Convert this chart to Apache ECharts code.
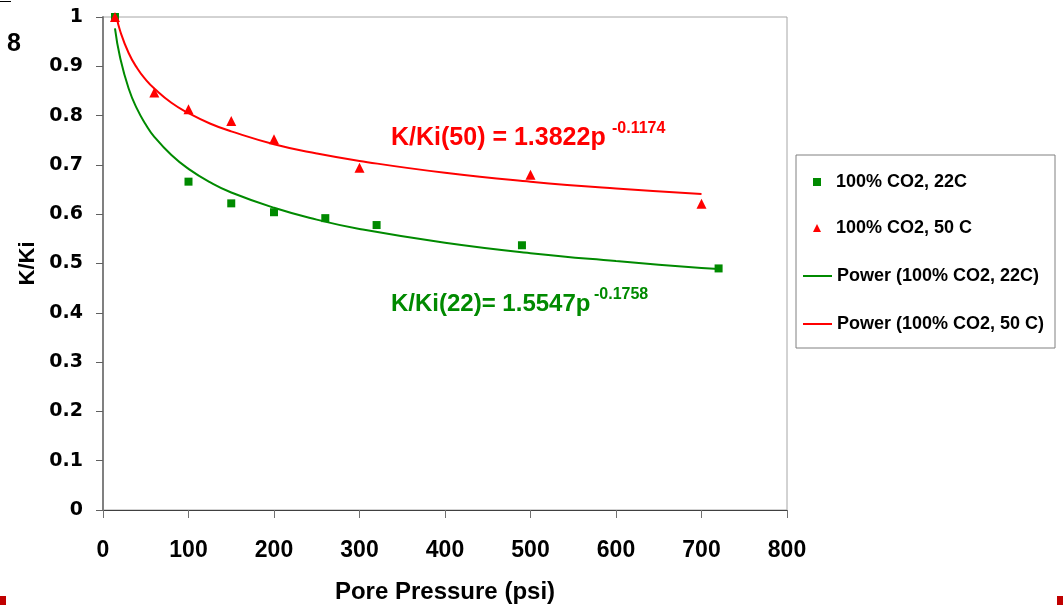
<!DOCTYPE html>
<html>
<head>
<meta charset="utf-8">
<script src="https://cdn.jsdelivr.net/npm/echarts@6/dist/echarts.min.js"></script>
<style>
    html, body { margin: 0; padding: 0; background: #ffffff; }
    #chart { width: 1063px; height: 605px; }
</style>
</head>
<body>
<div id="chart"></div>
<script>
// measured points
const pressure22 = [14, 100, 150, 200, 260, 320, 490, 720]
const ratio22 = [1.0, 0.666, 0.622, 0.604, 0.592, 0.578, 0.537, 0.49]
const pressure50 = [14, 60, 100, 150, 200, 300, 500, 700]
const ratio50 = [1.0, 0.847, 0.813, 0.789, 0.752, 0.694, 0.68, 0.621]

// power trend lines
const trendX22 = [14, 20, 30, 40, 50, 60, 80, 100, 125, 150, 200, 250, 300, 400, 500, 600, 700, 720]
const trendY22 = [0.977, 0.918, 0.855, 0.813, 0.782, 0.757, 0.72, 0.692, 0.665, 0.644, 0.613, 0.589, 0.57, 0.542, 0.521, 0.505, 0.491, 0.489]
const trendX50 = [16, 20, 30, 40, 50, 60, 80, 100, 125, 150, 200, 250, 300, 400, 500, 600, 700]
const trendY50 = [1.0, 0.972, 0.927, 0.896, 0.873, 0.855, 0.826, 0.805, 0.784, 0.768, 0.742, 0.723, 0.708, 0.684, 0.666, 0.652, 0.641]

const seriesNames = ['100% CO2, 22C', '100% CO2, 50 C', 'Power (100% CO2, 22C)', 'Power (100% CO2, 50 C)']

const GREEN = '#008a00'
const RED = '#ff0000'
const FONT = '"Liberation Sans", Arial, sans-serif'

function pairs(xs, ys) {
    return xs.map((x, i) => [x, ys[i]])
}

const chart = echarts.init(document.getElementById('chart'), null, { renderer: 'canvas' })

const legendText = {
    fontFamily: FONT,
    fontWeight: 'bold',
    fontSize: 18,
    lineHeight: 20,
    color: '#000000',
}

let option = {
    backgroundColor: '#ffffff',
    animation: false,
    grid: {
        left: 103,
        right: 276,
        top: 17,
        bottom: 95,
        outerBoundsMode: 'none',
        show: true,
        borderColor: '#a6a6a6',
        borderWidth: 1,
    },
    xAxis: {
        type: 'value',
        min: 0,
        max: 800,
        interval: 100,
        name: 'Pore Pressure (psi)',
        nameLocation: 'middle',
        nameGap: 70,
        nameTextStyle: { fontFamily: FONT, fontWeight: 'bold', fontSize: 24, color: '#000000' },
        axisLine: { lineStyle: { color: '#404040', width: 1 } },
        axisTick: { show: true, length: 8, lineStyle: { color: '#707070' } },
        axisLabel: { margin: 29, fontFamily: FONT, fontWeight: 'bold', fontSize: 23, color: '#000000' },
        splitLine: { show: false },
    },
    yAxis: {
        type: 'value',
        min: 0,
        max: 1,
        interval: 0.1,
        name: 'K/Ki',
        nameLocation: 'middle',
        nameGap: 64,
        nameRotate: 90,
        nameTextStyle: { fontFamily: FONT, fontWeight: 'bold', fontSize: 22, color: '#000000' },
        axisLine: { show: true, lineStyle: { color: '#808080', width: 2 } },
        axisTick: { show: true, length: 7, lineStyle: { color: '#606060' } },
        axisLabel: {
            margin: 20,
            fontFamily: '"DejaVu Sans", sans-serif',
            fontWeight: 'bold',
            fontSize: 19,
            color: '#000000',
        },
        splitLine: { show: false },
    },
    legend: [
        {
            orient: 'vertical',
            left: 808,
            top: 167,
            itemWidth: 8,
            itemHeight: 8,
            itemGap: 26,
            selectedMode: false,
            data: [seriesNames[0], seriesNames[1]],
            textStyle: { ...legendText, padding: [0, 0, 0, 10] },
        },
        {
            orient: 'vertical',
            left: 797,
            top: 261,
            itemWidth: 29,
            itemHeight: 2,
            itemGap: 28,
            selectedMode: false,
            data: [seriesNames[2], seriesNames[3]],
            textStyle: legendText,
        },
    ],
    graphic: [
        {
            type: 'rect',
            shape: { x: 796, y: 155, width: 259, height: 193 },
            style: { fill: 'transparent', stroke: '#808080', lineWidth: 1 },
            z: 1,
        },
        {
            type: 'text',
            x: 391,
            y: 138,
            style: { text: 'K/Ki(50) = 1.3822p', fill: RED, font: 'bold 25px ' + FONT, verticalAlign: 'middle' },
        },
        {
            type: 'text',
            x: 612,
            y: 129,
            style: { text: '-0.1174', fill: RED, font: 'bold 16px ' + FONT, verticalAlign: 'middle' },
        },
        {
            type: 'text',
            x: 391,
            y: 304,
            style: { text: 'K/Ki(22)= 1.5547p', fill: GREEN, font: 'bold 24px ' + FONT, verticalAlign: 'middle' },
        },
        {
            type: 'text',
            x: 594,
            y: 295,
            style: { text: '-0.1758', fill: GREEN, font: 'bold 16px ' + FONT, verticalAlign: 'middle' },
        },
        // bits of the slide around the chart
        {
            type: 'text',
            x: 7,
            y: 44,
            style: { text: '8', fill: '#000000', font: 'bold 25px ' + FONT, verticalAlign: 'middle' },
        },
        {
            type: 'rect',
            shape: { x: 0, y: 1, width: 11, height: 1 },
            style: { fill: '#000000' },
        },
        {
            type: 'rect',
            shape: { x: 0, y: 596, width: 6, height: 9 },
            style: { fill: '#c00000' },
        },
        {
            type: 'rect',
            shape: { x: 1057, y: 596, width: 6, height: 9 },
            style: { fill: '#c00000' },
        },
    ],
    series: [
        {
            name: seriesNames[0],
            type: 'scatter',
            symbol: 'rect',
            symbolSize: 8,
            itemStyle: { color: GREEN, opacity: 1 },
            data: pairs(pressure22, ratio22),
            z: 3,
        },
        {
            name: seriesNames[1],
            type: 'scatter',
            symbol: 'triangle',
            symbolSize: 10,
            itemStyle: { color: RED, opacity: 1 },
            data: pairs(pressure50, ratio50),
            z: 4,
        },
        {
            name: seriesNames[2],
            type: 'line',
            smooth: true,
            symbol: 'none',
            lineStyle: { color: GREEN, width: 2 },
            itemStyle: { color: GREEN },
            data: pairs(trendX22, trendY22),
            z: 2,
        },
        {
            name: seriesNames[3],
            type: 'line',
            smooth: true,
            symbol: 'none',
            lineStyle: { color: RED, width: 2 },
            itemStyle: { color: RED },
            data: pairs(trendX50, trendY50),
            z: 2,
        },
    ],
}

chart.setOption(option)
</script>
</body>
</html>
